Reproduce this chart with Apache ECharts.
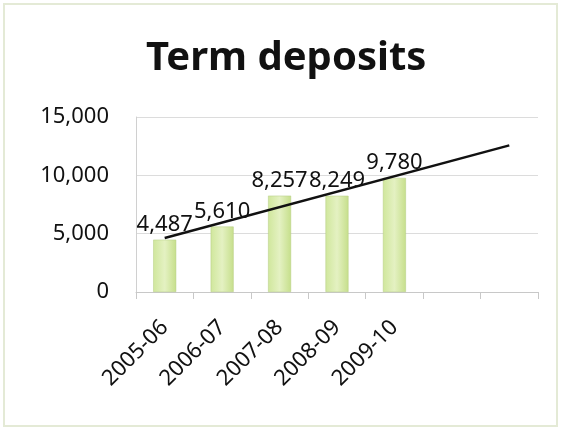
<!DOCTYPE html>
<html>
<head>
<meta charset="utf-8">
<script src="https://cdn.jsdelivr.net/npm/echarts@6/dist/echarts.min.js"></script>
<style>
  html, body { margin: 0; padding: 0; background: #fff; }
  #chart { width: 561px; height: 430px; }
</style>
</head>
<body>
<div id="chart"></div>
<script>
// Financial years; the last two slots are empty so the trend line can run ahead
const categories = ['2005-06', '2006-07', '2007-08', '2008-09', '2009-10', '', ''];
// Term deposits per year
const deposits = [4487, 5610, 8257, 8249, 9780, null, null];
// Linear trend endpoints (first year and two periods past the last one)
const trend = [4630, null, null, null, null, null, 12570];
// Value axis ticks
const yTicks = [0, 5000, 10000, 15000];

const fmt = v => v.toLocaleString('en-US');
const FONT = 'Noto Sans';

const chart = echarts.init(document.getElementById('chart'), null, { renderer: 'canvas' });
chart.setOption({
  backgroundColor: '#ffffff',
  animation: false,
  textStyle: { fontFamily: FONT },
  title: {
    text: 'Term deposits',
    left: 141,
    top: 34,
    textStyle: { fontFamily: FONT, fontWeight: 'bold', fontSize: 40, color: '#111' }
  },
  graphic: [{
    type: 'rect',
    shape: { x: 4, y: 4, width: 553, height: 422 },
    style: { fill: 'none', stroke: '#e4ead6', lineWidth: 2 },
    silent: true
  }],
  grid: { left: 136, right: 23, top: 117, bottom: 138, containLabel: false },
  xAxis: {
    type: 'category',
    data: categories,
    boundaryGap: true,
    axisLine: { lineStyle: { color: '#c8c8c8' } },
    axisTick: { show: true, alignWithLabel: false, length: 7, lineStyle: { color: '#c8c8c8' } },
    axisLabel: {
      interval: 0,
      rotate: 45,
      margin: 32,
      fontSize: 22,
      fontFamily: FONT,
      color: '#111'
    }
  },
  yAxis: {
    type: 'value',
    min: yTicks[0],
    max: yTicks[yTicks.length - 1],
    interval: yTicks[1] - yTicks[0],
    axisLine: { show: true, lineStyle: { color: '#d0d0d0' } },
    axisTick: { show: false },
    splitLine: { lineStyle: { color: '#dcdcdc' } },
    axisLabel: {
      fontSize: 22,
      fontFamily: FONT,
      color: '#111',
      margin: 27,
      formatter: v => fmt(v)
    }
  },
  series: [
    {
      type: 'bar',
      data: deposits,
      barWidth: '40%',
      itemStyle: {
        color: new echarts.graphic.LinearGradient(0, 0, 1, 0, [
          { offset: 0, color: '#d0e79c' },
          { offset: 0.5, color: '#e4f1c2' },
          { offset: 1, color: '#c6df8b' }
        ]),
        borderColor: '#b5cc80',
        borderWidth: 0.5
      },
      label: {
        show: true,
        position: 'top',
        distance: 4,
        fontSize: 22,
        fontFamily: FONT,
        color: '#111',
        formatter: p => fmt(p.value)
      },
      z: 2
    },
    {
      type: 'line',
      data: trend,
      connectNulls: true,
      symbol: 'none',
      lineStyle: { color: '#111', width: 2.5 },
      z: 5
    }
  ]
});
</script>
</body>
</html>
